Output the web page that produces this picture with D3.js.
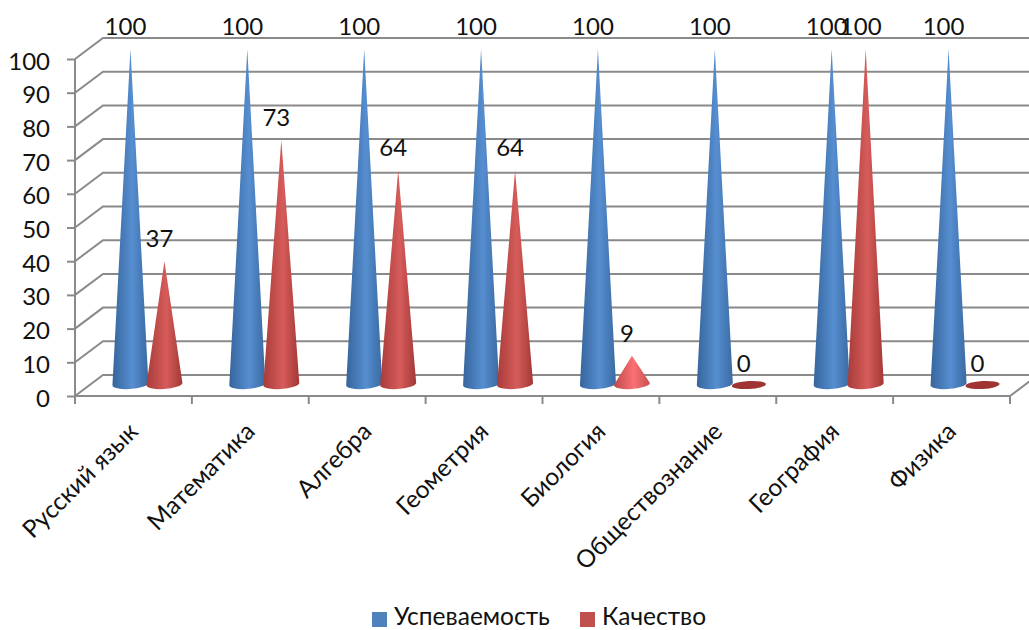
<!DOCTYPE html>
<html>
<head>
<meta charset="UTF-8">
<title>Успеваемость и качество</title>
<script src="https://cdn.jsdelivr.net/npm/d3@7"></script>
<style>
  body { margin: 0; background: #fff; }
  svg { display: block; }
  text { font-family: Lato, "Open Sans", "Noto Sans", sans-serif; fill: #111; }
</style>
</head>
<body>
<script>
var categories = ["Русский язык", "Математика", "Алгебра", "Геометрия", "Биология", "Обществознание", "География", "Физика"];
var seriesNames = ["Успеваемость", "Качество"];
var uspevaemost = [100, 100, 100, 100, 100, 100, 100, 100];
var kachestvo = [37, 73, 64, 64, 9, 0, 100, 0];
var yTicks = [0, 10, 20, 30, 40, 50, 60, 70, 80, 90, 100];

var width = 1029, height = 630;
var depthX = 28, depthY = 21;   // 3d wall offset
var midX = 14, midY = 10;       // where the cones stand inside the floor
var rx = 18;
var gridColor = "#8a8a8a";

var x = d3.scaleBand().domain(categories).range([75, 1010]);
var inner = d3.scaleBand().domain(seriesNames).range([-34, 34]);
var y = d3.scaleLinear().domain([0, 100]).range([396, 59]);

var svg = d3.select("body").append("svg").attr("width", width).attr("height", height);

var defs = svg.append("defs");
function coneGradient(id, edge1, mid, edge2) {
    var g = defs.append("linearGradient").attr("id", id);
    g.append("stop").attr("offset", "0%").attr("stop-color", edge1);
    g.append("stop").attr("offset", "55%").attr("stop-color", mid);
    g.append("stop").attr("offset", "100%").attr("stop-color", edge2);
}
coneGradient("grad-blue", "#36659c", "#568ed0", "#3a6aa2");
coneGradient("grad-red", "#a83c3a", "#d65c5a", "#a23836");
coneGradient("grad-red-small", "#c04a4c", "#fa7074", "#c8504f");

// walls and floor
var grid = svg.append("g").attr("fill", "none").attr("stroke", gridColor).attr("stroke-width", 2);
grid.selectAll("path.grid").data(yTicks).enter().append("path")
    .attr("class", "grid")
    .attr("d", function (d) {
        return "M" + 75 + "," + y(d) + "L" + (75 + depthX) + "," + (y(d) - depthY) + "H" + (width + 10);
    });
grid.append("path").attr("d", "M75," + y(100) + "V" + y(0) + "H1010l" + depthX + "," + (-depthY));

// y axis
var yAxis = d3.axisLeft(y).tickValues(yTicks).tickSize(8).tickPadding(17);
var yG = svg.append("g").attr("transform", "translate(75,0)").call(yAxis);
yG.select(".domain").remove();
yG.selectAll("line").attr("stroke", gridColor).attr("stroke-width", 2);
yG.selectAll("text").attr("dy", "0.42em").style("font-size", "24px");

// x axis ticks + rotated labels
var xTickVals = d3.range(categories.length + 1).map(function (i) { return 75 + i * x.bandwidth(); });
svg.append("g").selectAll("line").data(xTickVals).enter().append("line")
    .attr("x1", function (d) { return d; }).attr("x2", function (d) { return d; })
    .attr("y1", y(0)).attr("y2", y(0) + 8)
    .attr("stroke", gridColor).attr("stroke-width", 2);

svg.append("g").selectAll("text").data(categories).enter().append("text")
    .attr("text-anchor", "end")
    .attr("transform", function (d) {
        return "translate(" + (x(d) + x.bandwidth() / 2 + 6) + ",433) rotate(-45)";
    })
    .style("font-size", "24.5px")
    .text(function (d) { return d; });

// cones
function conePath(v, cx) {
    var tip = y(v) - midY, base = y(0) - 12, ry = 5;
    return "M" + (cx - rx) + "," + (base + 1) + "L" + cx + "," + tip + "L" + (cx + rx) + "," + (base - 1) +
        "A" + rx + "," + ry + " -4 0 1 " + (cx - rx) + "," + (base + 1) + "Z";
}

var rows = [];
categories.forEach(function (c, i) {
    rows.push({ cat: c, s: seriesNames[0], v: uspevaemost[i] });
    rows.push({ cat: c, s: seriesNames[1], v: kachestvo[i] });
});
function cxOf(d) { return x(d.cat) + x.bandwidth() / 2 + midX + inner(d.s) + inner.bandwidth() / 2; }

var marks = svg.append("g");
rows.forEach(function (d) {
    if (d.v === 0) {
        marks.append("ellipse")
            .attr("cx", cxOf(d)).attr("cy", y(0) - 11)
            .attr("rx", rx - 1).attr("ry", 4)
            .attr("transform", "rotate(-3 " + cxOf(d) + " " + (y(0) - 11) + ")")
            .attr("fill", "#a03433");
    } else {
        var fill = d.s === seriesNames[0] ? "grad-blue" : (d.v < 20 ? "grad-red-small" : "grad-red");
        marks.append("path").attr("d", conePath(d.v, cxOf(d))).attr("fill", "url(#" + fill + ")");
    }
});

// value labels
svg.append("g").selectAll("text").data(rows).enter().append("text")
    .attr("text-anchor", "middle")
    .attr("x", function (d) { return cxOf(d) - 5; })
    .attr("y", function (d) { return y(d.v) - midY - 14; })
    .style("font-size", "24px")
    .text(function (d) { return d.v; });

// legend
var legendX = [372, 580], legendColors = ["#4f81bd", "#c0504d"];
var legend = svg.append("g").selectAll("g").data(seriesNames).enter().append("g")
    .attr("transform", function (d, i) { return "translate(" + legendX[i] + ",612)"; });
legend.append("rect").attr("width", 15).attr("height", 15)
    .attr("fill", function (d, i) { return legendColors[i]; });
legend.append("text").attr("x", 22).attr("y", 13)
    .style("font-size", "24.5px")
    .text(function (d) { return d; });
</script>
</body>
</html>
